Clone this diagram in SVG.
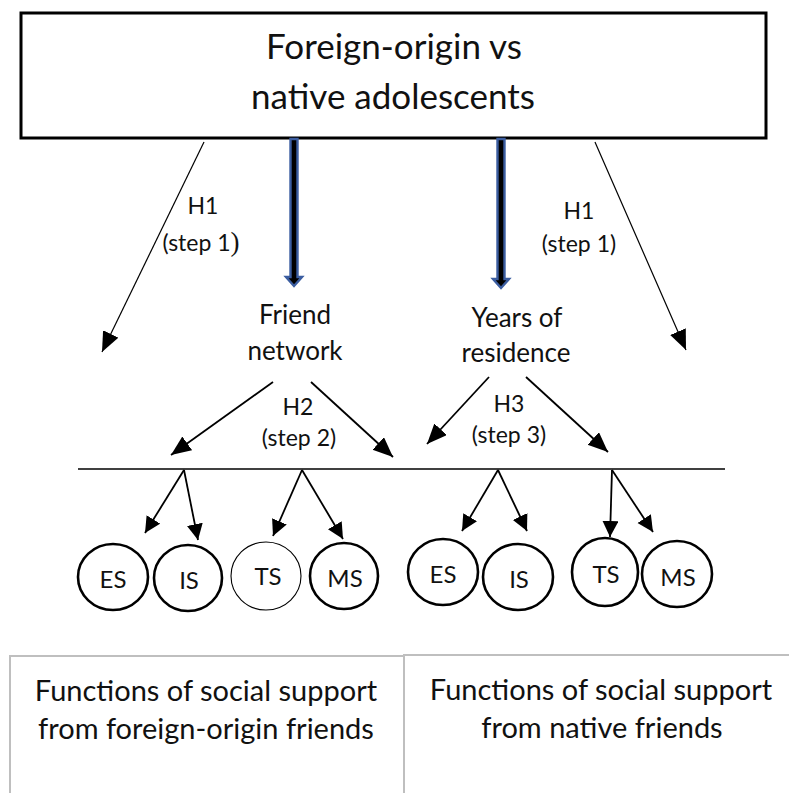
<svg xmlns="http://www.w3.org/2000/svg" width="789" height="793" viewBox="0 0 789 793">
<defs>
<style>
.t{font-family:Lato,"Open Sans","Liberation Sans",sans-serif;fill:#111;text-anchor:middle}
.title{font-size:35px}
.med{font-size:26px}
.lab{font-size:23px}
.circ{font-size:24px}
.bot{font-size:29px}
.thin{stroke:#000;stroke-width:1.2;fill:none}
.arr{stroke:#000;stroke-width:1.8;fill:none}
.c{fill:#fff;stroke:#000;stroke-width:2.6}
.cthin{fill:#fff;stroke:#000;stroke-width:1.1}
.blue{fill:#000;stroke:#3B5DA0;stroke-width:2.4;stroke-linejoin:miter}
.gbox{fill:#fff;stroke:#BFBFBF;stroke-width:2}
</style>
<marker id="ah" markerUnits="userSpaceOnUse" markerWidth="22" markerHeight="20" refX="20" refY="8.5" orient="auto">
<path d="M0,0 L20,8.5 L0,17 z" fill="#000"/>
</marker>
<marker id="ahs" markerUnits="userSpaceOnUse" markerWidth="18" markerHeight="18" refX="16" refY="8" orient="auto">
<path d="M0,0 L16,8 L0,16 z" fill="#000"/>
</marker>
</defs>
<rect width="789" height="793" fill="#fff"/>

<g id="top-node">
<rect x="21" y="13" width="745" height="125" fill="#fff" stroke="#000" stroke-width="3"/>
<text class="t title" x="394" y="59">Foreign-origin vs</text>
<text class="t title" x="393" y="109">native adolescents</text>
</g>

<g id="friend-network">
<text class="t med" x="295" y="324">Friend</text>
<text class="t med" x="295" y="360">network</text>
</g>

<g id="years-of-residence">
<text class="t med" x="517" y="327">Years of</text>
<text class="t med" x="516" y="362">residence</text>
</g>

<g id="bottom-left">
<rect class="gbox" x="10" y="656" width="394" height="160"/>
<text class="t bot" x="206" y="701">Functions of social support</text>
<text class="t bot" x="206" y="739">from foreign-origin friends</text>
</g>
<g id="bottom-right">
<rect class="gbox" x="404" y="655" width="400" height="160"/>
<text class="t bot" x="601" y="700">Functions of social support</text>
<text class="t bot" x="602" y="738">from native friends</text>
</g>

<g id="circles">
<g id="es1"><ellipse class="c" cx="113" cy="577" rx="35" ry="33"/><text class="t circ" x="113" y="588">ES</text></g>
<g id="is1"><ellipse class="c" cx="188" cy="578" rx="34" ry="33"/><text class="t circ" x="189" y="589">IS</text></g>
<g id="ts1"><ellipse class="cthin" cx="266" cy="576" rx="35" ry="34"/><text class="t circ" x="268" y="585">TS</text></g>
<g id="ms1"><ellipse class="c" cx="344" cy="576" rx="34" ry="33"/><text class="t circ" x="345" y="587">MS</text></g>
<g id="es2"><ellipse class="c" cx="443" cy="572" rx="35" ry="33"/><text class="t circ" x="443" y="583">ES</text></g>
<g id="is2"><ellipse class="c" cx="518" cy="577" rx="35" ry="33"/><text class="t circ" x="519" y="588">IS</text></g>
<g id="ts2"><ellipse class="c" cx="605" cy="572" rx="33" ry="34"/><text class="t circ" x="606" y="583">TS</text></g>
<g id="ms2"><ellipse class="c" cx="677" cy="574" rx="35" ry="33"/><text class="t circ" x="678" y="586">MS</text></g>
</g>

<g id="connectors">
<polygon class="blue" points="290.5,139 297.5,139 297.5,277 302,277 294,286 286,277 290.5,277"/>
<polygon class="blue" points="497.5,139 504.5,139 504.5,279 509,279 501,288 493,279 497.5,279"/>
<line class="thin" x1="204" y1="142" x2="102" y2="352" marker-end="url(#ah)"/>
<line class="thin" x1="595" y1="142" x2="686" y2="350" marker-end="url(#ah)"/>
<line class="arr" x1="273" y1="382" x2="171" y2="455" marker-end="url(#ah)"/>
<line class="arr" x1="311" y1="382" x2="393" y2="457" marker-end="url(#ah)"/>
<line class="arr" x1="489" y1="377" x2="427" y2="444" marker-end="url(#ah)"/>
<line class="arr" x1="526" y1="377" x2="608" y2="452" marker-end="url(#ah)"/>
<line x1="78" y1="469" x2="725" y2="469" stroke="#000" stroke-width="1.6"/>
<line class="arr" x1="184" y1="470" x2="145" y2="533" marker-end="url(#ahs)"/>
<line class="arr" x1="184" y1="470" x2="198" y2="540" marker-end="url(#ahs)"/>
<line class="arr" x1="302" y1="470" x2="273" y2="536" marker-end="url(#ahs)"/>
<line class="arr" x1="302" y1="470" x2="343" y2="539" marker-end="url(#ahs)"/>
<line class="arr" x1="498" y1="470" x2="462" y2="531" marker-end="url(#ahs)"/>
<line class="arr" x1="498" y1="470" x2="527" y2="531" marker-end="url(#ahs)"/>
<line class="arr" x1="612" y1="470" x2="610" y2="537" marker-end="url(#ahs)"/>
<line class="arr" x1="612" y1="470" x2="653" y2="532" marker-end="url(#ahs)"/>
</g>

<g id="labels">
<text class="t lab" x="203" y="214">H1</text>
<text class="t lab" x="201" y="251">(step 1<tspan style="font-family:'Liberation Serif',serif;font-size:27px">)</tspan></text>
<text class="t lab" x="579" y="219">H1</text>
<text class="t lab" x="579" y="252">(step 1)</text>
<text class="t lab" x="298" y="415">H2</text>
<text class="t lab" x="299" y="446">(step 2)</text>
<text class="t lab" x="509" y="412">H3</text>
<text class="t lab" x="509" y="443">(step 3)</text>
</g>
</svg>
